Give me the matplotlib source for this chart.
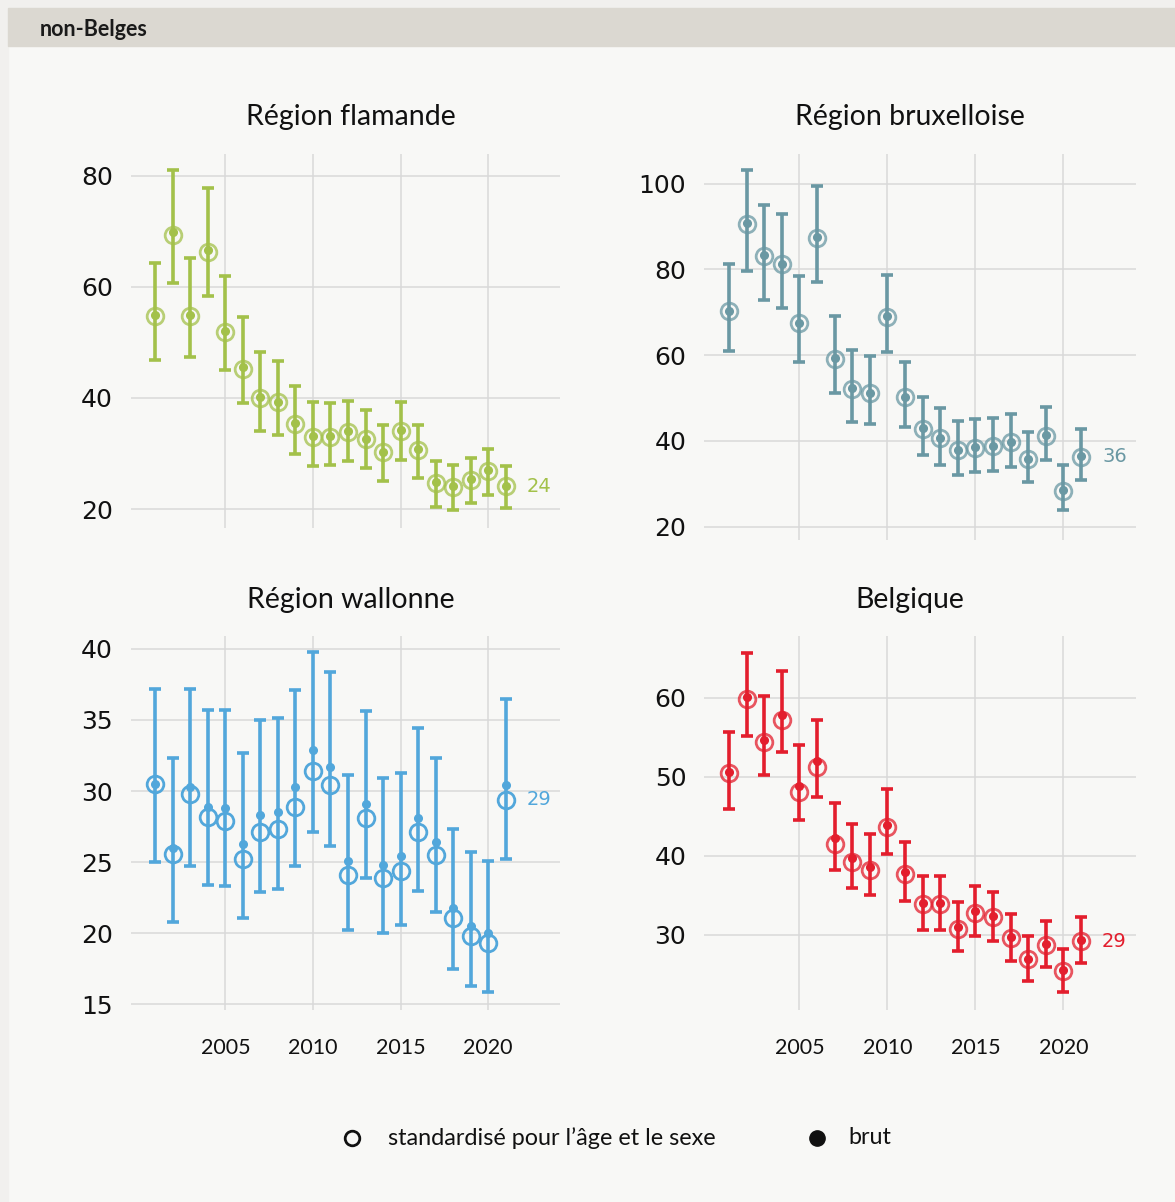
import matplotlib
matplotlib.use('agg')
import matplotlib.pyplot as plt
from matplotlib.patches import Rectangle
import numpy as np

# data (taux, non-Belges)
years = np.arange(2001, 2022)

fla_std = [54.8, 69.4, 54.8, 66.2, 51.8, 45.3, 40.0, 39.2, 35.4, 33.0, 33.0,
           33.8, 32.6, 30.2, 34.1, 30.7, 24.7, 24.0, 25.3, 26.9, 24.1]
fla_brut = [54.9, 69.9, 55.0, 66.6, 52.0, 45.5, 40.1, 39.3, 35.5, 33.1, 33.1,
            34.0, 32.7, 30.3, 34.2, 30.8, 24.8, 24.1, 25.4, 27.0, 24.2]
fla_low = [46.8, 60.7, 47.3, 58.4, 45.1, 39.1, 34.1, 33.4, 29.9, 27.7, 27.9,
           28.6, 27.4, 25.1, 28.9, 25.6, 20.3, 19.9, 21.1, 22.6, 20.2]
fla_high = [64.2, 81.0, 65.1, 77.8, 62.0, 54.6, 48.3, 46.7, 42.1, 39.2, 39.1,
            39.5, 37.9, 35.2, 39.2, 35.2, 28.7, 28.0, 29.2, 30.8, 27.8]

bru_std = [70.3, 90.5, 83.2, 81.2, 67.4, 87.2, 59.2, 52.2, 51.1, 69.0, 50.2,
           42.8, 40.6, 37.9, 38.4, 38.8, 39.7, 35.7, 41.2, 28.4, 36.3]
bru_brut = [70.3, 90.7, 83.3, 81.2, 67.6, 87.6, 59.4, 52.3, 51.2, 69.2, 50.3,
            42.9, 40.7, 38.0, 38.5, 38.9, 39.8, 35.8, 41.3, 28.6, 36.4]
bru_low = [61.0, 79.7, 72.9, 70.9, 58.5, 77.1, 51.1, 44.5, 43.9, 60.7, 43.3,
           36.8, 34.5, 32.1, 32.7, 33.0, 34.0, 30.5, 35.5, 24.0, 31.0]
bru_high = [81.3, 103.1, 95.0, 92.8, 78.5, 99.5, 69.2, 61.3, 59.8, 78.8, 58.3,
            50.2, 47.7, 44.6, 45.0, 45.3, 46.2, 42.1, 48.0, 34.4, 42.8]

wal_std = [30.5, 25.6, 29.8, 28.2, 27.9, 25.2, 27.1, 27.3, 28.9, 31.4, 30.4,
           24.1, 28.1, 23.9, 24.4, 27.1, 25.5, 21.1, 19.8, 19.3, 29.4]
wal_brut = [30.5, 26.0, 30.3, 28.9, 28.8, 26.3, 28.3, 28.5, 30.3, 32.9, 31.7,
            25.1, 29.1, 24.8, 25.4, 28.1, 26.4, 21.8, 20.5, 20.0, 30.4]
wal_low = [25.0, 20.8, 24.7, 23.4, 23.3, 21.1, 22.9, 23.1, 24.7, 27.1, 26.1,
           20.2, 23.9, 20.0, 20.6, 23.0, 21.5, 17.5, 16.3, 15.9, 25.2]
wal_high = [37.2, 32.3, 37.2, 35.7, 35.7, 32.7, 35.0, 35.1, 37.1, 39.8, 38.4,
            31.1, 35.6, 30.9, 31.3, 34.4, 32.3, 27.3, 25.7, 25.1, 36.5]

bel_std = [50.5, 59.8, 54.4, 57.2, 48.1, 51.2, 41.5, 39.2, 38.2, 43.6, 37.7,
           33.9, 33.9, 30.8, 32.8, 32.3, 29.6, 26.9, 28.7, 25.4, 29.2]
bel_brut = [50.6, 60.1, 54.6, 57.8, 48.8, 52.0, 42.2, 39.7, 38.6, 43.9, 37.9,
            34.0, 34.0, 31.0, 33.0, 32.4, 29.7, 27.0, 28.8, 25.5, 29.3]
bel_low = [45.9, 55.1, 50.2, 53.1, 44.5, 47.5, 38.2, 35.9, 35.0, 40.2, 34.3,
           30.6, 30.6, 27.9, 29.8, 29.2, 26.7, 24.2, 25.9, 22.8, 26.5]
bel_high = [55.7, 65.7, 60.2, 63.4, 54.0, 57.2, 46.7, 44.0, 42.7, 48.4, 41.8,
            37.5, 37.5, 34.2, 36.2, 35.4, 32.7, 29.9, 31.7, 28.2, 32.2]

W, H = 1175, 1202
BG = '#f8f8f6'
GRID = '#d9d9d9'
LABEL_FONT = ['Lato', 'DejaVu Sans']

fig = plt.figure(figsize=(W / 100, H / 100), dpi=100, facecolor=BG)

# header band
fig.patches.append(Rectangle((0, 1 - 8 / H), 1, 8 / H, transform=fig.transFigure,
                             color='#f1f0ee', zorder=0))
fig.patches.append(Rectangle((0, 0), 8 / W, 1, transform=fig.transFigure,
                             color='#f1f0ee', zorder=0))
fig.patches.append(Rectangle((8 / W, 1 - 46 / H), 1, 38 / H, transform=fig.transFigure,
                             color='#dbd8d1', zorder=0))
fig.text(40 / W, 1 - 29 / H, 'non-Belges', fontsize=15.5, fontweight='bold',
         family=LABEL_FONT, va='center', ha='left', color='#1a1a1a')


def px_axes(left, top, right, bottom):
    return fig.add_axes([left / W, 1 - bottom / H, (right - left) / W, (bottom - top) / H])


panels = [
    dict(title='Région flamande', tx=351, ty=117, box=(130.7, 154, 560, 528),
         ylim=(16.6, 83.9), yticks=[20, 40, 60, 80], color='#a3c14a', ring=0.75,
         std=fla_std, brut=fla_brut, low=fla_low, high=fla_high, xlab=False),
    dict(title='Région bruxelloise', tx=910, ty=117, box=(704.4, 154, 1135.5, 540),
         ylim=(16.9, 106.9), yticks=[20, 40, 60, 80, 100], color='#6a98a3', ring=0.75,
         std=bru_std, brut=bru_brut, low=bru_low, high=bru_high, xlab=False),
    dict(title='Région wallonne', tx=351, ty=600, box=(130.7, 636, 560, 1010),
         ylim=(14.6, 40.9), yticks=[15, 20, 25, 30, 35, 40], color='#52a7db', ring=1.0,
         std=wal_std, brut=wal_brut, low=wal_low, high=wal_high, xlab=True),
    dict(title='Belgique', tx=910, ty=600, box=(704.4, 636, 1135.5, 1010),
         ylim=(20.5, 67.8), yticks=[30, 40, 50, 60], color='#e31e2d', ring=0.75,
         std=bel_std, brut=bel_brut, low=bel_low, high=bel_high, xlab=True),
]

for p in panels:
    ax = px_axes(*p['box'])
    ax.set_facecolor(BG)
    c = p['color']
    brut = np.array(p['brut'])
    low = np.array(p['low'])
    high = np.array(p['high'])
    ax.errorbar(years, brut, yerr=[brut - low, high - brut], fmt='none',
                ecolor=c, elinewidth=2.6, capsize=4, capthick=2.6, zorder=3)
    ax.plot(years, brut, 'o', color=c, markersize=5.5, zorder=4)
    ax.plot(years, p['std'], 'o', markerfacecolor='none', markeredgecolor=c,
            markeredgewidth=2.0, markersize=12, alpha=p['ring'], zorder=5)
    ax.text(years[-1] + 1.2, p['std'][-1], f"{round(p['std'][-1])}", color=c,
            fontsize=14, ha='left', va='center')

    ax.set_xlim(1999.6, 2024.1)
    ax.set_ylim(*p['ylim'])
    ax.set_yticks(p['yticks'])
    ax.set_xticks([2005, 2010, 2015, 2020])
    ax.grid(True, color=GRID, linewidth=1.1)
    ax.set_axisbelow(True)
    for s in ax.spines.values():
        s.set_visible(False)
    ax.tick_params(axis='both', length=0)
    ax.tick_params(axis='y', labelsize=18, pad=13, labelcolor='#111111')
    if p['xlab']:
        ax.tick_params(axis='x', labelsize=15.5, pad=20, labelcolor='#111111')
        for t in ax.get_xticklabels():
            t.set_family(LABEL_FONT)
    else:
        ax.set_xticklabels([])

    fig.text(p['tx'] / W, 1 - p['ty'] / H, p['title'], fontsize=20.5,
             family=LABEL_FONT, ha='center', va='center', color='#111111')

# legend row
lax = fig.add_axes([0, 0, 1, 1], facecolor='none')
lax.set_xlim(0, W)
lax.set_ylim(H, 0)
lax.axis('off')
lax.plot([352], [1138], 'o', markerfacecolor='none', markeredgecolor='#111111',
         markeredgewidth=2.0, markersize=10.5)
lax.text(388, 1138, 'standardisé pour l’âge et le sexe', fontsize=16.8,
         family=LABEL_FONT, va='center', ha='left', color='#111111')
lax.plot([817], [1138], 'o', color='#111111', markersize=11)
lax.text(848, 1138, 'brut', fontsize=16.8, family=LABEL_FONT, va='center',
         ha='left', color='#111111')

plt.savefig('out.png', dpi=100, facecolor=BG)
